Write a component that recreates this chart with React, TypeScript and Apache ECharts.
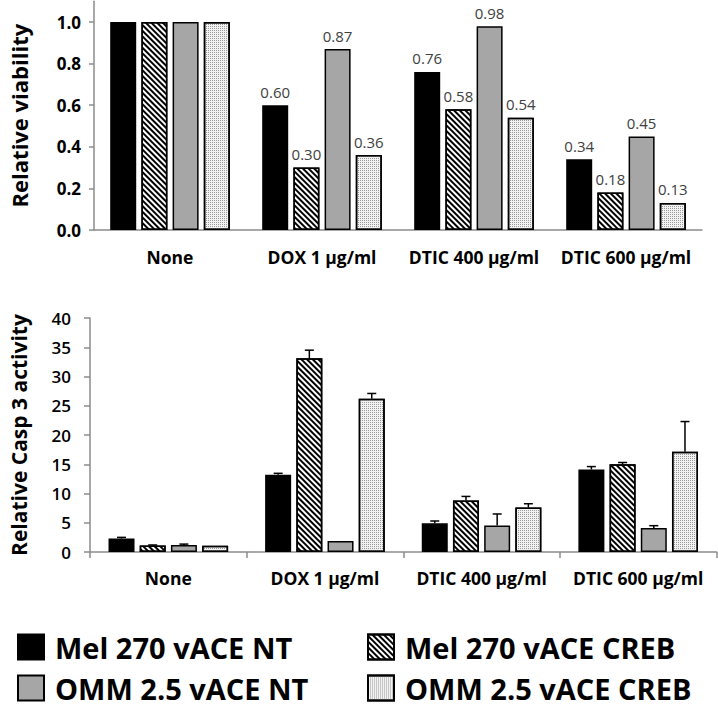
import React, { useEffect, useRef } from "react";
import * as echarts from "echarts";

const categories = ["None", "DOX 1 µg/ml", "DTIC 400 µg/ml", "DTIC 600 µg/ml"];
const seriesNames = ["Mel 270 vACE NT", "Mel 270 vACE CREB", "OMM 2.5 vACE NT", "OMM 2.5 vACE CREB"];

// Top panel: relative viability
const viabMelNT = [1.0, 0.6, 0.76, 0.34];
const viabMelCREB = [1.0, 0.3, 0.58, 0.18];
const viabOmmNT = [1.0, 0.87, 0.98, 0.45];
const viabOmmCREB = [1.0, 0.36, 0.54, 0.13];
const viabTicks = [0, 0.2, 0.4, 0.6, 0.8, 1.0];

// Bottom panel: relative caspase 3 activity (mean, upper error)
const caspMelNT = [2.3, 13.2, 4.9, 14.1];
const caspMelNTErr = [0.2, 0.25, 0.4, 0.5];
const caspMelCREB = [1.1, 33.1, 8.8, 15.0];
const caspMelCREBErr = [0.1, 1.4, 0.7, 0.3];
const caspOmmNT = [1.2, 1.9, 4.55, 4.1];
const caspOmmNTErr = [0.15, 0, 1.95, 0.4];
const caspOmmCREB = [1.05, 26.2, 7.6, 17.15];
const caspOmmCREBErr = [0.05, 0.9, 0.65, 5.15];

const FONT = "Open Sans";
const AXIS_GRAY = "#8c8c8c";
const BAR_W = 26;
const BAR_GAP = 0.2;

const hatchDecal = {
  symbol: "rect",
  symbolSize: 1,
  color: "#000000",
  dashArrayX: [1, 0],
  dashArrayY: [2, 2],
  rotation: Math.PI / 4,
};
const dotDecal = {
  symbol: "rect",
  symbolSize: 1,
  color: "#9a9a9a",
  dashArrayX: [1, 1],
  dashArrayY: [1, 1],
  rotation: 0,
};

const styles = [
  { color: "#000000", borderColor: "#000000", borderWidth: 1.5 },
  { color: "#ffffff", borderColor: "#000000", borderWidth: 1.5, decal: hatchDecal },
  { color: "#a6a6a6", borderColor: "#000000", borderWidth: 1.5 },
  { color: "#f2f2f2", borderColor: "#000000", borderWidth: 1.5, decal: dotDecal },
];

// legend slot positions per series (column left, row top)
const legendSlots = [
  { left: 17, top: 632 },
  { left: 367, top: 632 },
  { left: 17, top: 673 },
  { left: 367, top: 673 },
];

function App() {
  const ref = useRef<HTMLDivElement>(null);
  useEffect(() => {
    if (!ref.current) return;
    const chart = echarts.init(ref.current, undefined, { renderer: "svg" });
    const viab = [viabMelNT, viabMelCREB, viabOmmNT, viabOmmCREB];
    const casp = [caspMelNT, caspMelCREB, caspOmmNT, caspOmmCREB];
    const caspErr = [caspMelNTErr, caspMelCREBErr, caspOmmNTErr, caspOmmCREBErr];

    const series: any[] = [];
    viab.forEach((vals, i) => {
      series.push({
        type: "bar",
        name: seriesNames[i],
        xAxisIndex: 0,
        yAxisIndex: 0,
        data: vals,
        barWidth: BAR_W,
        barGap: "20%",
        itemStyle: styles[i],
        label: {
          show: true,
          position: "top",
          distance: 6,
          fontFamily: FONT,
          fontSize: 15,
          color: "#404040",
          formatter: (p: any) => (p.dataIndex === 0 ? "" : Number(p.value).toFixed(2)),
        },
      });
    });
    casp.forEach((vals, i) => {
      series.push({
        type: "bar",
        name: seriesNames[i],
        xAxisIndex: 1,
        yAxisIndex: 1,
        data: vals,
        barWidth: BAR_W,
        barGap: "20%",
        itemStyle: styles[i],
      });
    });
    casp.forEach((vals, i) => {
      series.push({
        type: "custom",
        name: seriesNames[i] + " error",
        xAxisIndex: 1,
        yAxisIndex: 1,
        z: 5,
        data: vals.map((v, k) => [k, v, v + caspErr[i][k]]),
        renderItem: (params: any, api: any) => {
          const k = api.value(0);
          const base = api.coord([k, api.value(1)]);
          const top = api.coord([k, api.value(2)]);
          const offset = (i - 1.5) * BAR_W * (1 + BAR_GAP);
          const x = base[0] + offset;
          if (Math.abs(base[1] - top[1]) < 0.5) return { type: "group", children: [] };
          const lineStyle = { stroke: "#000", lineWidth: 1.5 };
          return {
            type: "group",
            children: [
              { type: "line", shape: { x1: x, y1: base[1], x2: x, y2: top[1] }, style: lineStyle },
              { type: "line", shape: { x1: x - 4.5, y1: top[1], x2: x + 4.5, y2: top[1] }, style: lineStyle },
            ],
          };
        },
      });
    });

    const legendText = { fontFamily: FONT, fontSize: 29, fontWeight: "bold", color: "#000", lineHeight: 30, padding: [0, 0, 0, 6] };
    const legends = seriesNames.map((name, i) => ({
      data: [name],
      left: legendSlots[i].left,
      top: legendSlots[i].top,
      padding: 0,
      itemWidth: 26,
      itemHeight: 25,
      icon: "rect",
      selectedMode: false,
      textStyle: legendText,
    }));

    chart.setOption({
      animation: false,
      textStyle: { fontFamily: FONT },
      legend: legends,
      grid: [
        { left: 82, right: 16, top: 1.2, height: 228.8 },
        { left: 86.5, right: 1.5, top: 318, height: 234 },
      ],
      xAxis: [
        {
          type: "category",
          gridIndex: 0,
          data: categories,
          axisLine: { lineStyle: { color: AXIS_GRAY, width: 1.5 } },
          axisTick: { show: false },
          axisLabel: { interval: 0, margin: 18, fontFamily: FONT, fontSize: 17.5, fontWeight: "bold", color: "#000" },
        },
        {
          type: "category",
          gridIndex: 1,
          data: categories,
          axisLine: { lineStyle: { color: AXIS_GRAY, width: 1.5 } },
          axisTick: { show: true, length: 6, lineStyle: { color: AXIS_GRAY, width: 1.5 } },
          axisLabel: { interval: 0, margin: 17, fontFamily: FONT, fontSize: 17.5, fontWeight: "bold", color: "#000" },
        },
      ],
      yAxis: [
        {
          type: "value",
          gridIndex: 0,
          min: 0,
          max: 1.1,
          interval: 0.1,
          name: "Relative viability",
          nameLocation: "middle",
          nameGap: 64,
          nameTextStyle: { fontFamily: FONT, fontSize: 22, fontWeight: "bold", color: "#000" },
          axisLine: { show: true, lineStyle: { color: AXIS_GRAY, width: 1.5 } },
          axisTick: { show: true, length: 5, lineStyle: { color: AXIS_GRAY, width: 1.5 }, customValues: viabTicks },
          splitLine: { show: false },
          axisLabel: {
            margin: 13,
            fontFamily: FONT,
            fontSize: 17,
            fontWeight: "bold",
            color: "#000",
            customValues: viabTicks,
            formatter: (v: number) => v.toFixed(1),
          },
        },
        {
          type: "value",
          gridIndex: 1,
          min: 0,
          max: 40,
          interval: 5,
          name: "Relative Casp 3 activity",
          nameLocation: "middle",
          nameGap: 61,
          nameTextStyle: { fontFamily: FONT, fontSize: 21, fontWeight: "bold", color: "#000" },
          axisLine: { show: true, lineStyle: { color: AXIS_GRAY, width: 1.5 } },
          axisTick: { show: true, length: 6, lineStyle: { color: AXIS_GRAY, width: 1.5 } },
          splitLine: { show: false },
          axisLabel: { margin: 19, fontFamily: FONT, fontSize: 17, fontWeight: 600, color: "#000" },
        },
      ],
      series,
    });
    return () => chart.dispose();
  }, []);
  return <div ref={ref} style={{ position: "absolute", left: 0, top: 0, width: 718, height: 706 }} />;
}

export default App;
